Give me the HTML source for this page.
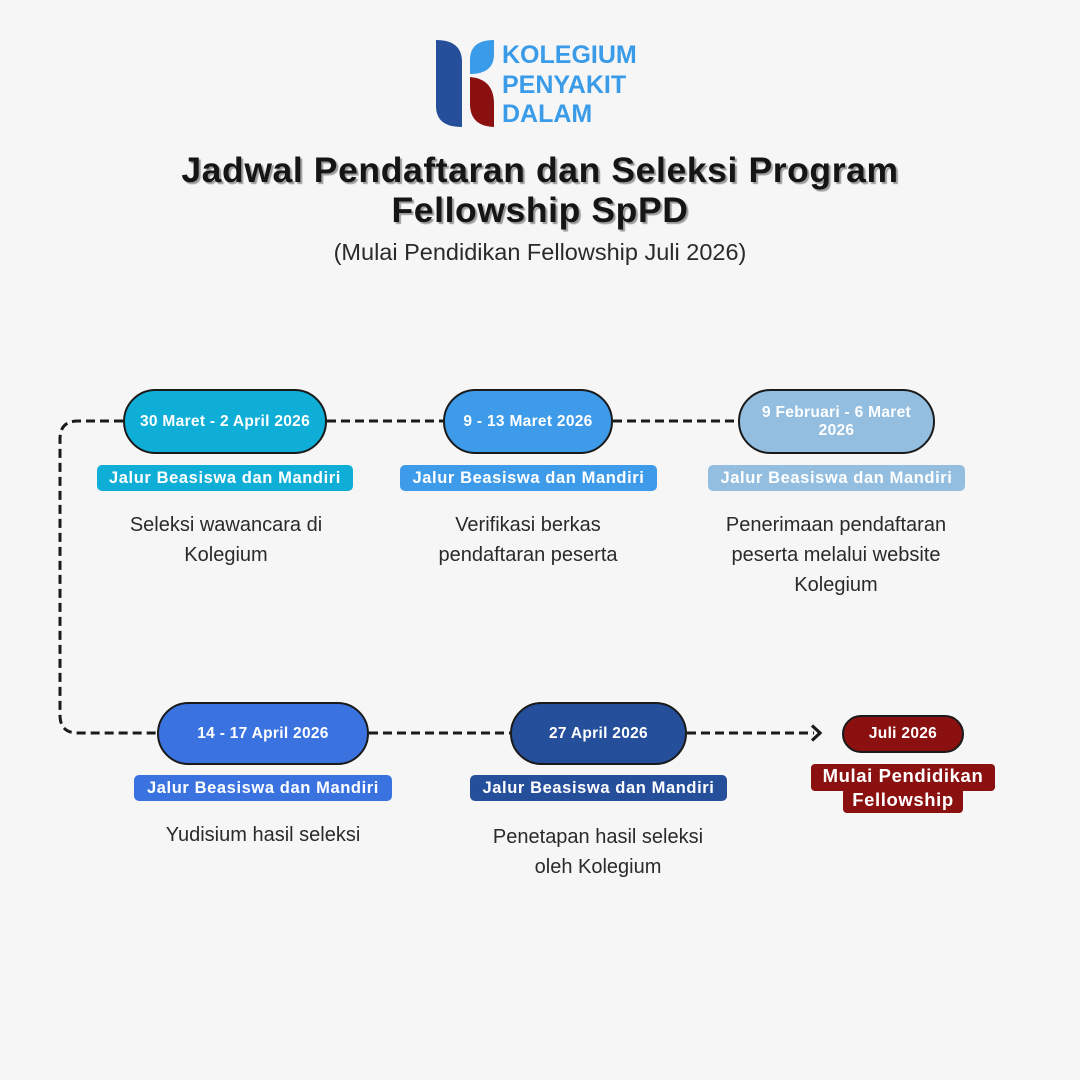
<!DOCTYPE html>
<html>
<head>
<meta charset="utf-8">
<style>
  html, body { margin:0; padding:0; }
  body { width:1080px; height:1080px; position:relative; overflow:hidden; background:#f6f6f6; font-family:"Liberation Sans", sans-serif; }
  .abs { position:absolute; }
  .pill { position:absolute; box-sizing:border-box; border:2px solid #1a1a1a; border-radius:34px; color:#fff; font-weight:bold; font-size:15.5px; letter-spacing:0.3px; display:flex; align-items:center; justify-content:center; text-align:center; line-height:18px; }
  .lab { position:absolute; box-sizing:border-box; border-radius:5px; color:#fff; font-weight:bold; font-size:16.5px; letter-spacing:0.6px; display:flex; align-items:center; justify-content:center; white-space:nowrap; }
  .desc { position:absolute; text-align:center; color:#2a2a2a; font-size:20px; line-height:30px; white-space:nowrap; }
  .logo { position:absolute; left:502px; top:41px; color:#3a9be8; font-weight:bold; font-size:25px; line-height:29.5px; }
  .title { position:absolute; left:0; width:1080px; text-align:center; top:150px; font-size:35.5px; letter-spacing:0.6px; line-height:40px; font-weight:bold; color:#151515; text-shadow:2px 2px 1px #9a9a9a; }
  .sub { position:absolute; left:0; width:1080px; text-align:center; top:238px; font-size:23.5px; line-height:28px; color:#2a2a2a; }
</style>
</head>
<body>

<svg class="abs" style="left:0;top:0" width="1080" height="1080" viewBox="0 0 1080 1080">
  <!-- logo shapes -->
  <path d="M436,40 L436,106 Q436,127 462,127 L462,62 Q462,40 436,40 Z" fill="#264f9b"/>
  <path d="M470,74 L470,60 Q470,40 494,40 L494,54 Q494,74 470,74 Z" fill="#3a9be8"/>
  <path d="M470,77 Q494,79 494,104 L494,127 Q470,126 470,104 Z" fill="#8b1111"/>
  <!-- dashed connectors -->
  <g fill="none" stroke="#1a1a1a" stroke-width="3" stroke-dasharray="9 5">
    <path d="M123,421 L78,421 Q60,421 60,439 L60,715 Q60,733 78,733 L157,733"/>
    <path d="M327,421 L443,421"/>
    <path d="M613,421 L738,421"/>
    <path d="M369,733 L510,733"/>
    <path d="M687,733 L814,733"/>
  </g>
  <path d="M812,725.5 L820,733 L812,740.5" fill="none" stroke="#1a1a1a" stroke-width="3.2" stroke-linejoin="miter"/>
  <!-- Mulai Pendidikan label background -->
  <rect x="811" y="764" width="184" height="27" rx="4" fill="#8b1111"/>
  <rect x="843" y="788" width="120" height="25" rx="4" fill="#8b1111"/>
</svg>

<div class="logo">KOLEGIUM<br>PENYAKIT<br>DALAM</div>

<div class="title">Jadwal Pendaftaran dan Seleksi Program<br>Fellowship SpPD</div>
<div class="sub">(Mulai Pendidikan Fellowship Juli 2026)</div>

<!-- Top row -->
<div class="pill" style="left:123px;top:389px;width:204px;height:65px;background:#0eaed6;">30 Maret - 2 April 2026</div>
<div class="pill" style="left:443px;top:389px;width:170px;height:65px;background:#3d9be9;">9 - 13 Maret 2026</div>
<div class="pill" style="left:738px;top:389px;width:197px;height:65px;background:#93bee0;">9 Februari - 6 Maret<br>2026</div>

<div class="lab" style="left:97px;top:465px;width:256px;height:26px;background:#0eaed6;">Jalur Beasiswa dan Mandiri</div>
<div class="lab" style="left:400px;top:465px;width:257px;height:26px;background:#3d9be9;">Jalur Beasiswa dan Mandiri</div>
<div class="lab" style="left:708px;top:465px;width:257px;height:26px;background:#93bee0;">Jalur Beasiswa dan Mandiri</div>

<div class="desc" style="left:76px;width:300px;top:510px;">Seleksi wawancara di<br>Kolegium</div>
<div class="desc" style="left:378px;width:300px;top:510px;">Verifikasi berkas<br>pendaftaran peserta</div>
<div class="desc" style="left:686px;width:300px;top:510px;">Penerimaan pendaftaran<br>peserta melalui website<br>Kolegium</div>

<!-- Bottom row -->
<div class="pill" style="left:157px;top:702px;width:212px;height:63px;background:#3a73e0;">14 - 17 April 2026</div>
<div class="pill" style="left:510px;top:702px;width:177px;height:63px;background:#264f9b;">27 April 2026</div>
<div class="pill" style="left:842px;top:715px;width:122px;height:38px;background:#8b1111;">Juli 2026</div>

<div class="lab" style="left:134px;top:775px;width:258px;height:26px;background:#3a73e0;">Jalur Beasiswa dan Mandiri</div>
<div class="lab" style="left:470px;top:775px;width:257px;height:26px;background:#264f9b;">Jalur Beasiswa dan Mandiri</div>

<div class="abs" style="left:811px;top:764px;width:184px;text-align:center;color:#fff;font-weight:bold;font-size:18.5px;letter-spacing:0.6px;line-height:24px;">Mulai Pendidikan<br>Fellowship</div>

<div class="desc" style="left:113px;width:300px;top:820px;">Yudisium hasil seleksi</div>
<div class="desc" style="left:448px;width:300px;top:822px;">Penetapan hasil seleksi<br>oleh Kolegium</div>

</body>
</html>
